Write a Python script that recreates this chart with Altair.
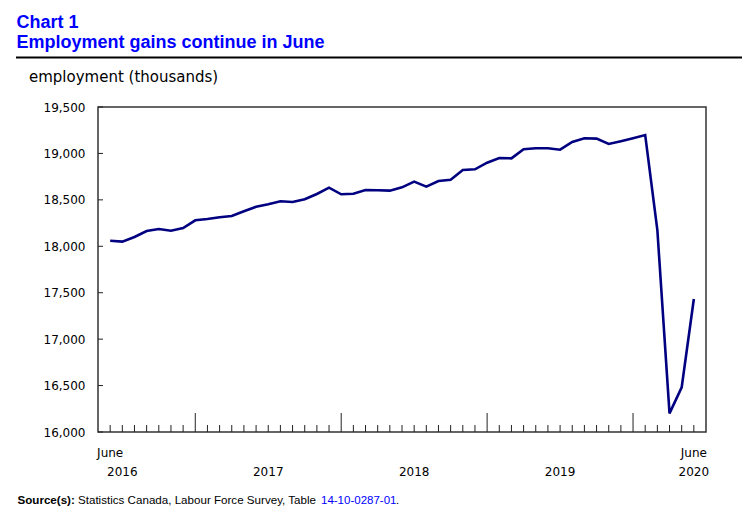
import altair as alt
import pandas as pd

# ---- data ----
months = [f"{2016 + (5 + k) // 12}-{(5 + k) % 12 + 1:02d}" for k in range(49)]
employment = [
    18060, 18050, 18100, 18165, 18186, 18168, 18197, 18280, 18294, 18312,
    18326, 18377, 18425, 18452, 18485, 18477, 18506, 18563, 18631, 18560,
    18566, 18606, 18603, 18599, 18635, 18696, 18642, 18703, 18717, 18822,
    18829, 18900, 18951, 18947, 19045, 19055, 19055, 19040, 19123, 19163,
    19159, 19102, 19131, 19163, 19198, 18175, 16201, 16481, 17432,
]
y_ticks = [16000, 16500, 17000, 17500, 18000, 18500, 19000, 19500]
x_label_pos_top = [0, 48]
x_label_top = ["June", "June"]
x_label_pos_bottom = [1, 13, 25, 37, 48]
x_label_bottom = ["2016", "2017", "2018", "2019", "2020"]

df = pd.DataFrame({"i": list(range(len(months))), "month": months, "employment": employment})
df_ticks = pd.DataFrame({"i": list(range(len(months))),
                         "major": [m.endswith("-01") for m in months]})

W, H = 608, 325
xs = alt.Scale(domain=[-1, 49], nice=False, zero=False)
ys = alt.Scale(domain=[16000, 19500], nice=False, zero=False)
FONT = "DejaVu Sans"
yaxis = alt.Axis(values=y_ticks, format=",.0f", ticks=False, tickSize=0, domain=False,
                 grid=False, labelPadding=13, labelFont=FONT, labelFontSize=12,
                 labelColor="black", title=None)

line = alt.Chart(df).mark_line(color="#000080", strokeWidth=2.6).encode(
    x=alt.X("i:Q", scale=xs, axis=None),
    y=alt.Y("employment:Q", scale=ys, axis=yaxis),
    tooltip=["month:N", "employment:Q"],
)

ytick = alt.Chart(pd.DataFrame({"employment": y_ticks})).mark_rule(color="#222", strokeWidth=1).encode(
    y=alt.Y("employment:Q", scale=ys, axis=yaxis), x=alt.value(0), x2=alt.value(5))

xtick_minor = alt.Chart(df_ticks).transform_filter("!datum.major").mark_rule(
    color="#222", strokeWidth=1).encode(
    x=alt.X("i:Q", scale=xs, axis=None), y=alt.value(H), y2=alt.value(H - 7))
xtick_major = alt.Chart(df_ticks).transform_filter("datum.major").mark_rule(
    color="#222", strokeWidth=1).encode(
    x=alt.X("i:Q", scale=xs, axis=None), y=alt.value(H), y2=alt.value(H - 19))

xlab_top = alt.Chart(pd.DataFrame({"i": x_label_pos_top, "t": x_label_top})).mark_text(
    font=FONT, fontSize=12, color="black", baseline="alphabetic", align="center").encode(
    x=alt.X("i:Q", scale=xs, axis=None), y=alt.value(350), text="t:N")
xlab_bottom = alt.Chart(pd.DataFrame({"i": x_label_pos_bottom, "t": x_label_bottom})).mark_text(
    font=FONT, fontSize=12, color="black", baseline="alphabetic", align="center").encode(
    x=alt.X("i:Q", scale=xs, axis=None), y=alt.value(369), text="t:N")


def ann(text, x, y, **style):
    return alt.Chart(pd.DataFrame({"t": [text]})).mark_text(
        align="left", baseline="alphabetic", **style).encode(
        x=alt.value(x), y=alt.value(y), text="t:N")


title1 = ann("Chart 1", -81.5, -79, font="Liberation Sans", fontSize=18, fontWeight="bold", color="#0000ff")
title2 = ann("Employment gains continue in June", -81.5, -59, font="Liberation Sans", fontSize=18,
             fontWeight="bold", color="#0000ff")
title_rule = alt.Chart(pd.DataFrame({"a": [0]})).mark_rule(color="black", strokeWidth=2).encode(
    x=alt.value(-82), x2=alt.value(660), y=alt.value(-49.5))
ytitle = ann("employment (thousands)", -69, -25.5, font=FONT, fontSize=15, color="black")
src1 = ann("Source(s):", -80.5, 397, font="Liberation Sans", fontSize=11.6, fontWeight="bold", color="black")
src2 = ann("Statistics Canada, Labour Force Survey, Table", -20, 397, font="Liberation Sans",
           fontSize=11.6, color="black")
src3 = ann("14-10-0287-01", 223, 397, font="Liberation Sans", fontSize=11.5, color="#0000ff")
src4 = ann(".", 298, 397, font="Liberation Sans", fontSize=11.5, color="black")

chart = alt.layer(
    xtick_minor, xtick_major, ytick, line, xlab_top, xlab_bottom,
    title1, title2, title_rule, ytitle, src1, src2, src3, src4,
).properties(
    width=W, height=H,
    autosize=alt.AutoSizeParams(type="none"),
    padding={"left": 90, "top": 99, "right": 36, "bottom": 76},
    background="white",
).configure_view(stroke="#333", strokeWidth=1.5)

chart.save("out.html", embed_options={"renderer": "svg", "actions": False})
